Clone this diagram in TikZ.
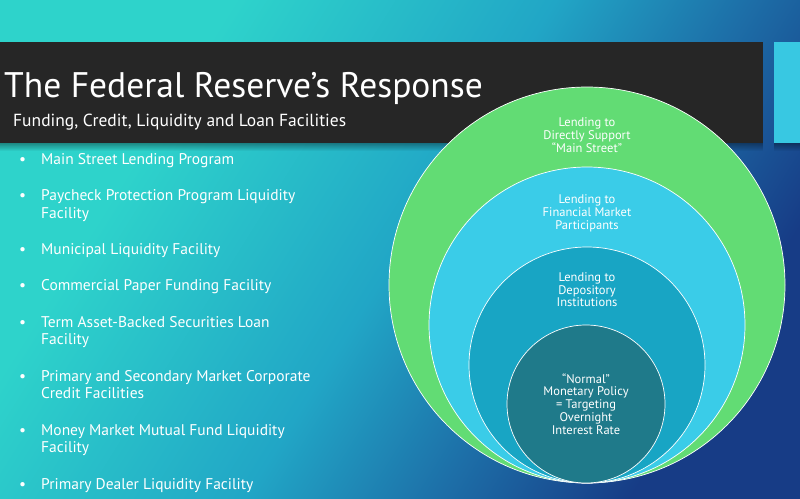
\documentclass[tikz,border=0pt]{standalone}
\usepackage{fontspec}
\setmainfont{PT Sans}
\usepackage{tikz}
\usetikzlibrary{positioning,fadings}
\definecolor{bgteal}{HTML}{2ED3CB}
\definecolor{bgmid}{HTML}{21A6C6}
\definecolor{bgdeep}{HTML}{1D6FA8}
\definecolor{bgnavy}{HTML}{173C86}
\definecolor{barblack}{HTML}{262626}
\definecolor{accent}{HTML}{38C8E2}
\definecolor{ringgreen}{HTML}{62DC74}
\definecolor{ringsky}{HTML}{3ACCE8}
\definecolor{ringsea}{HTML}{18A5C4}
\definecolor{ringcore}{HTML}{1F7A8A}
\pgfdeclarehorizontalshading{slidebg}{100bp}{color(0bp)=(bgteal); color(30bp)=(bgteal); color(50bp)=(bgmid); color(62bp)=(bgdeep); color(74bp)=(bgnavy); color(100bp)=(bgnavy)}
\newcommand{\itm}{\strut\llap{\textbullet\hskip 15pt}}

\begin{document}
\begin{tikzpicture}[
  x=1pt,y=-1pt,
  title/.style={text=white,font=\fontsize{35.5}{40}\selectfont,inner sep=0,anchor=west},
  subtitle/.style={text=white,font=\fontsize{17.5}{20}\selectfont,inner sep=0,anchor=west},
  facility/.style={text=white,font=\fontsize{15.5}{17.5}\selectfont,inner sep=0,align=left,anchor=north west},
  ring/.style={circle,draw=white,line width=0.7pt,inner sep=0},
  ringtxt/.style={text=white,font=\fontsize{12.5}{12.8}\selectfont,inner sep=0,align=center},
]
\useasboundingbox (0,0) rectangle (800,498);
\shade[shading=slidebg,shading angle=-32] (0,0) rectangle (800,498);

\fill[black,opacity=.35,path fading=south] (0,143) rectangle (763,151);
\fill[black,opacity=.35,path fading=south] (774,143) rectangle (800,151);
\fill[barblack] (0,42) rectangle (763,143);
\fill[accent] (774,42) rectangle (800,143);

\node[title] (title) at (4,88) {The Federal Reserve’s Response};
\node[subtitle] (subtitle) at (13,122) {Funding, Credit, Liquidity and Loan Facilities};

\node[facility] (mslp) at (41,151.75) {\itm Main Street Lending Program};
\node[facility,below=18.5pt of mslp.south west,anchor=north west] (ppplf) {\itm Paycheck Protection Program Liquidity\\\strut Facility};
\node[facility,below=18.5pt of ppplf.south west,anchor=north west] (mlf) {\itm Municipal Liquidity Facility};
\node[facility,below=18.5pt of mlf.south west,anchor=north west] (cpff) {\itm Commercial Paper Funding Facility};
\node[facility,below=18.5pt of cpff.south west,anchor=north west] (talf) {\itm Term Asset-Backed Securities Loan\\\strut Facility};
\node[facility,below=18.5pt of talf.south west,anchor=north west] (pmccf) {\itm Primary and Secondary Market Corporate\\\strut Credit Facilities};
\node[facility,below=18.5pt of pmccf.south west,anchor=north west] (mmlf) {\itm Money Market Mutual Fund Liquidity\\\strut Facility};
\node[facility,below=18.5pt of mmlf.south west,anchor=north west] (pdcf) {\itm Primary Dealer Liquidity Facility};

\node[ring,fill=ringgreen,minimum size=396pt] (mainst) at (587,285) {};
\node[ring,fill=ringsky,minimum size=316pt] (market) at (587,325) {};
\node[ring,fill=ringsea,minimum size=236pt] (depository) at (587,365) {};
\node[ring,fill=ringcore,minimum size=158pt] (normal) at (586,404) {};

\node[ringtxt] (mainsttxt) at (587,135) {Lending to\\Directly Support\\“Main Street”};
\node[ringtxt] (markettxt) at (587,213.5) {Lending to\\Financial Market\\Participants};
\node[ringtxt] (depositorytxt) at (587,289.7) {Lending to\\Depository\\Institutions};
\node[ringtxt] (normaltxt) at (586,404) {“Normal”\\Monetary Policy\\= Targeting\\Overnight\\Interest Rate};
\end{tikzpicture}
\end{document}
